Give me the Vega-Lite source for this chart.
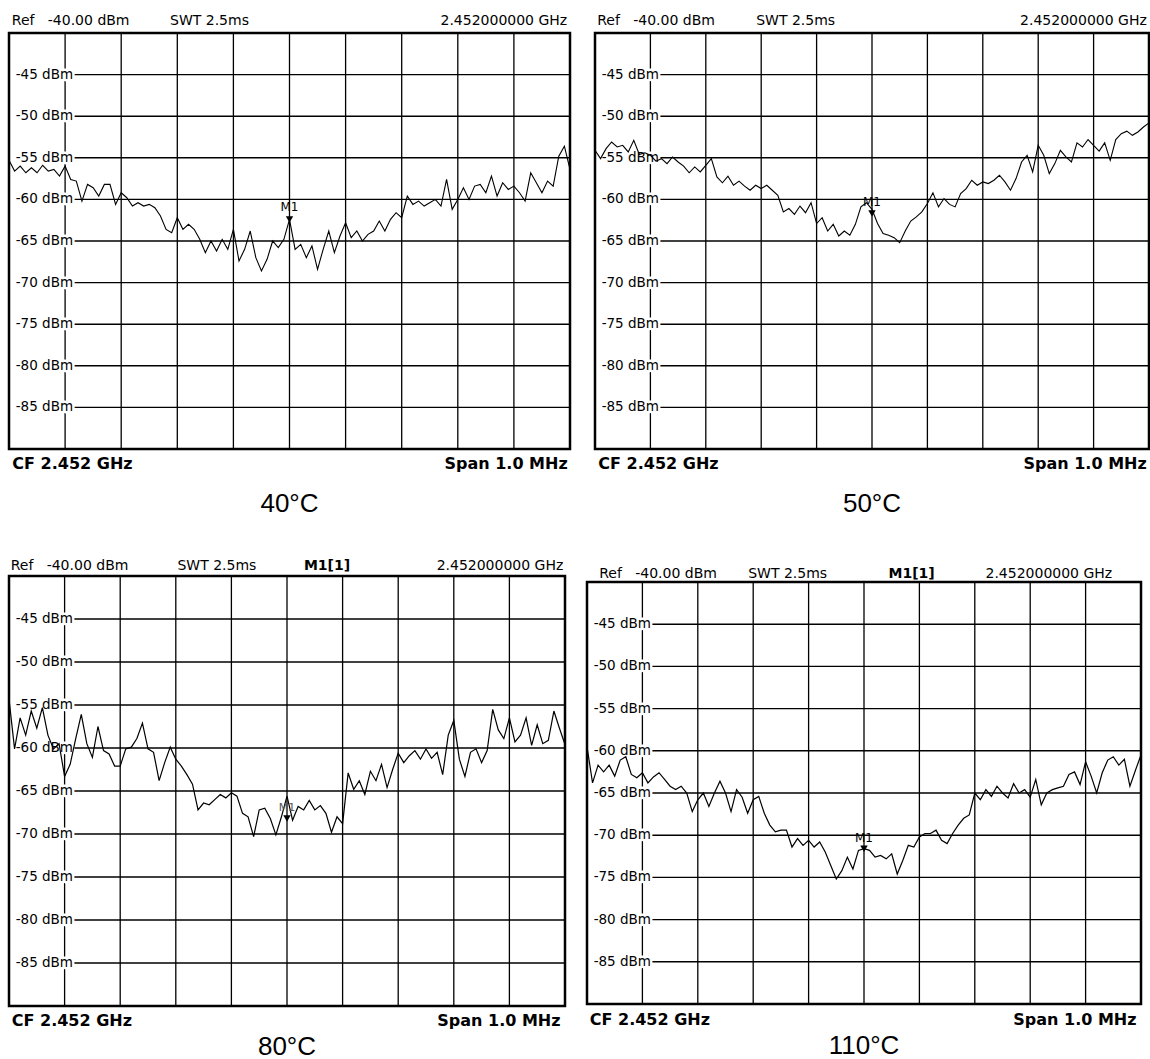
{
"$schema": "https://vega.github.io/schema/vega-lite/v6.json",
"background": "white",
"padding": {"left": 5, "top": 12, "right": 0, "bottom": 0},
"config": {"view": {"stroke": "black", "strokeWidth": 2.5}, "text": {"font": "DejaVu Sans", "color": "black"}},
"datasets": {
"divs": [{"kHz":-400},{"kHz":-300},{"kHz":-200},{"kHz":-100},{"kHz":0},{"kHz":100},{"kHz":200},{"kHz":300},{"kHz":400}],
"levels": [{"dBm":-45,"label":"-45 dBm"},{"dBm":-50,"label":"-50 dBm"},{"dBm":-55,"label":"-55 dBm"},{"dBm":-60,"label":"-60 dBm"},{"dBm":-65,"label":"-65 dBm"},{"dBm":-70,"label":"-70 dBm"},{"dBm":-75,"label":"-75 dBm"},{"dBm":-80,"label":"-80 dBm"},{"dBm":-85,"label":"-85 dBm"}],
"t40": [{"kHz":-500,"dBm":-55.3},{"kHz":-490,"dBm":-56.6},{"kHz":-480,"dBm":-56.0},{"kHz":-470,"dBm":-56.8},{"kHz":-460,"dBm":-56.2},{"kHz":-450,"dBm":-56.8},{"kHz":-440,"dBm":-55.9},{"kHz":-430,"dBm":-56.6},{"kHz":-420,"dBm":-56.4},{"kHz":-410,"dBm":-57.2},
{"kHz":-400,"dBm":-56.0},{"kHz":-390,"dBm":-57.6},{"kHz":-380,"dBm":-57.8},{"kHz":-370,"dBm":-60.2},{"kHz":-360,"dBm":-58.2},{"kHz":-350,"dBm":-58.6},{"kHz":-340,"dBm":-59.6},{"kHz":-330,"dBm":-58.2},{"kHz":-320,"dBm":-58.2},{"kHz":-310,"dBm":-60.6},
{"kHz":-300,"dBm":-59.2},{"kHz":-290,"dBm":-59.8},{"kHz":-280,"dBm":-60.8},{"kHz":-270,"dBm":-60.4},{"kHz":-260,"dBm":-60.8},{"kHz":-250,"dBm":-60.6},{"kHz":-240,"dBm":-61.0},{"kHz":-230,"dBm":-62.0},{"kHz":-220,"dBm":-63.6},{"kHz":-210,"dBm":-64.0},
{"kHz":-200,"dBm":-62.2},{"kHz":-190,"dBm":-63.6},{"kHz":-180,"dBm":-63.0},{"kHz":-170,"dBm":-63.6},{"kHz":-160,"dBm":-64.8},{"kHz":-150,"dBm":-66.4},{"kHz":-140,"dBm":-65.0},{"kHz":-130,"dBm":-66.2},{"kHz":-120,"dBm":-64.8},{"kHz":-110,"dBm":-66.0},
{"kHz":-100,"dBm":-63.6},{"kHz":-90,"dBm":-67.4},{"kHz":-80,"dBm":-66.0},{"kHz":-70,"dBm":-63.8},{"kHz":-60,"dBm":-67.0},{"kHz":-50,"dBm":-68.6},{"kHz":-40,"dBm":-67.2},{"kHz":-30,"dBm":-65.0},{"kHz":-20,"dBm":-65.8},{"kHz":-10,"dBm":-64.8},
{"kHz":0,"dBm":-62.4},{"kHz":10,"dBm":-66.0},{"kHz":20,"dBm":-65.4},{"kHz":30,"dBm":-67.0},{"kHz":40,"dBm":-65.6},{"kHz":50,"dBm":-68.4},{"kHz":60,"dBm":-66.0},{"kHz":70,"dBm":-63.8},{"kHz":80,"dBm":-66.4},{"kHz":90,"dBm":-64.4},
{"kHz":100,"dBm":-62.8},{"kHz":110,"dBm":-64.6},{"kHz":120,"dBm":-63.8},{"kHz":130,"dBm":-65.0},{"kHz":140,"dBm":-64.2},{"kHz":150,"dBm":-63.8},{"kHz":160,"dBm":-62.6},{"kHz":170,"dBm":-63.8},{"kHz":180,"dBm":-62.4},{"kHz":190,"dBm":-61.6},
{"kHz":200,"dBm":-62.2},{"kHz":210,"dBm":-59.6},{"kHz":220,"dBm":-60.6},{"kHz":230,"dBm":-60.2},{"kHz":240,"dBm":-60.8},{"kHz":250,"dBm":-60.4},{"kHz":260,"dBm":-60.0},{"kHz":270,"dBm":-60.8},{"kHz":280,"dBm":-57.6},{"kHz":290,"dBm":-61.2},
{"kHz":300,"dBm":-60.0},{"kHz":310,"dBm":-58.6},{"kHz":320,"dBm":-60.0},{"kHz":330,"dBm":-58.4},{"kHz":340,"dBm":-58.2},{"kHz":350,"dBm":-59.2},{"kHz":360,"dBm":-57.2},{"kHz":370,"dBm":-59.6},{"kHz":380,"dBm":-58.0},{"kHz":390,"dBm":-58.8},
{"kHz":400,"dBm":-58.4},{"kHz":410,"dBm":-59.2},{"kHz":420,"dBm":-60.2},{"kHz":430,"dBm":-56.8},{"kHz":440,"dBm":-58.0},{"kHz":450,"dBm":-59.2},{"kHz":460,"dBm":-57.8},{"kHz":470,"dBm":-58.4},{"kHz":480,"dBm":-54.8},{"kHz":490,"dBm":-53.6},
{"kHz":500,"dBm":-56.4}],
"t50": [{"kHz":-500,"dBm":-54.1},{"kHz":-490,"dBm":-55.1},{"kHz":-480,"dBm":-53.9},{"kHz":-470,"dBm":-53.1},{"kHz":-460,"dBm":-53.7},{"kHz":-450,"dBm":-53.5},{"kHz":-440,"dBm":-54.3},{"kHz":-430,"dBm":-52.9},{"kHz":-420,"dBm":-54.6},{"kHz":-410,"dBm":-54.4},
{"kHz":-400,"dBm":-54.7},{"kHz":-390,"dBm":-55.4},{"kHz":-380,"dBm":-55.1},{"kHz":-370,"dBm":-55.7},{"kHz":-360,"dBm":-54.9},{"kHz":-350,"dBm":-55.5},{"kHz":-340,"dBm":-56.0},{"kHz":-330,"dBm":-56.8},{"kHz":-320,"dBm":-56.1},{"kHz":-310,"dBm":-56.7},
{"kHz":-300,"dBm":-55.9},{"kHz":-290,"dBm":-55.1},{"kHz":-280,"dBm":-57.3},{"kHz":-270,"dBm":-58.0},{"kHz":-260,"dBm":-57.2},{"kHz":-250,"dBm":-58.3},{"kHz":-240,"dBm":-57.8},{"kHz":-230,"dBm":-58.4},{"kHz":-220,"dBm":-58.9},{"kHz":-210,"dBm":-58.3},
{"kHz":-200,"dBm":-58.7},{"kHz":-190,"dBm":-58.3},{"kHz":-180,"dBm":-58.9},{"kHz":-170,"dBm":-59.5},{"kHz":-160,"dBm":-61.5},{"kHz":-150,"dBm":-61.1},{"kHz":-140,"dBm":-61.8},{"kHz":-130,"dBm":-60.8},{"kHz":-120,"dBm":-61.6},{"kHz":-110,"dBm":-60.4},
{"kHz":-100,"dBm":-62.9},{"kHz":-90,"dBm":-62.2},{"kHz":-80,"dBm":-63.8},{"kHz":-70,"dBm":-63.0},{"kHz":-60,"dBm":-64.4},{"kHz":-50,"dBm":-63.8},{"kHz":-40,"dBm":-64.3},{"kHz":-30,"dBm":-63.0},{"kHz":-20,"dBm":-60.9},{"kHz":-10,"dBm":-60.4},
{"kHz":0,"dBm":-61.2},{"kHz":10,"dBm":-62.9},{"kHz":20,"dBm":-64.1},{"kHz":30,"dBm":-64.3},{"kHz":40,"dBm":-64.6},{"kHz":50,"dBm":-65.2},{"kHz":60,"dBm":-63.8},{"kHz":70,"dBm":-62.6},{"kHz":80,"dBm":-62.1},{"kHz":90,"dBm":-61.5},
{"kHz":100,"dBm":-60.5},{"kHz":110,"dBm":-59.2},{"kHz":120,"dBm":-60.9},{"kHz":130,"dBm":-59.9},{"kHz":140,"dBm":-60.6},{"kHz":150,"dBm":-60.9},{"kHz":160,"dBm":-59.3},{"kHz":170,"dBm":-58.7},{"kHz":180,"dBm":-57.7},{"kHz":190,"dBm":-58.3},
{"kHz":200,"dBm":-57.9},{"kHz":210,"dBm":-58.1},{"kHz":220,"dBm":-57.7},{"kHz":230,"dBm":-57.1},{"kHz":240,"dBm":-57.9},{"kHz":250,"dBm":-58.9},{"kHz":260,"dBm":-57.5},{"kHz":270,"dBm":-55.5},{"kHz":280,"dBm":-54.7},{"kHz":290,"dBm":-56.7},
{"kHz":300,"dBm":-53.5},{"kHz":310,"dBm":-54.7},{"kHz":320,"dBm":-56.9},{"kHz":330,"dBm":-55.7},{"kHz":340,"dBm":-54.1},{"kHz":350,"dBm":-54.9},{"kHz":360,"dBm":-55.5},{"kHz":370,"dBm":-53.2},{"kHz":380,"dBm":-53.7},{"kHz":390,"dBm":-52.8},
{"kHz":400,"dBm":-53.5},{"kHz":410,"dBm":-54.2},{"kHz":420,"dBm":-53.2},{"kHz":430,"dBm":-55.3},{"kHz":440,"dBm":-52.8},{"kHz":450,"dBm":-52.1},{"kHz":460,"dBm":-51.8},{"kHz":470,"dBm":-52.3},{"kHz":480,"dBm":-51.9},{"kHz":490,"dBm":-51.3},
{"kHz":500,"dBm":-50.8}],
"t80": [{"kHz":-500,"dBm":-54.3},{"kHz":-490,"dBm":-60.1},{"kHz":-480,"dBm":-56.5},{"kHz":-470,"dBm":-58.5},{"kHz":-460,"dBm":-55.7},{"kHz":-450,"dBm":-57.7},{"kHz":-440,"dBm":-55.3},{"kHz":-430,"dBm":-58.5},{"kHz":-420,"dBm":-60.1},{"kHz":-410,"dBm":-59.5},
{"kHz":-400,"dBm":-63.3},{"kHz":-390,"dBm":-61.9},{"kHz":-380,"dBm":-58.9},{"kHz":-370,"dBm":-56.1},{"kHz":-360,"dBm":-59.5},{"kHz":-350,"dBm":-61.1},{"kHz":-340,"dBm":-57.5},{"kHz":-330,"dBm":-60.3},{"kHz":-320,"dBm":-60.7},{"kHz":-310,"dBm":-62.1},
{"kHz":-300,"dBm":-62.1},{"kHz":-290,"dBm":-60.1},{"kHz":-280,"dBm":-59.9},{"kHz":-270,"dBm":-58.9},{"kHz":-260,"dBm":-57.1},{"kHz":-250,"dBm":-60.1},{"kHz":-240,"dBm":-60.5},{"kHz":-230,"dBm":-63.8},{"kHz":-220,"dBm":-61.7},{"kHz":-210,"dBm":-59.9},
{"kHz":-200,"dBm":-61.3},{"kHz":-190,"dBm":-62.1},{"kHz":-180,"dBm":-63.1},{"kHz":-170,"dBm":-64.2},{"kHz":-160,"dBm":-67.2},{"kHz":-150,"dBm":-66.4},{"kHz":-140,"dBm":-66.6},{"kHz":-130,"dBm":-66.0},{"kHz":-120,"dBm":-65.4},{"kHz":-110,"dBm":-65.8},
{"kHz":-100,"dBm":-65.2},{"kHz":-90,"dBm":-65.6},{"kHz":-80,"dBm":-67.6},{"kHz":-70,"dBm":-68.0},{"kHz":-60,"dBm":-70.3},{"kHz":-50,"dBm":-67.2},{"kHz":-40,"dBm":-67.0},{"kHz":-30,"dBm":-68.2},{"kHz":-20,"dBm":-70.1},{"kHz":-10,"dBm":-68.0},
{"kHz":0,"dBm":-65.6},{"kHz":10,"dBm":-68.4},{"kHz":20,"dBm":-66.8},{"kHz":30,"dBm":-67.2},{"kHz":40,"dBm":-66.1},{"kHz":50,"dBm":-67.2},{"kHz":60,"dBm":-66.7},{"kHz":70,"dBm":-67.6},{"kHz":80,"dBm":-69.8},{"kHz":90,"dBm":-68.0},
{"kHz":100,"dBm":-68.8},{"kHz":110,"dBm":-62.9},{"kHz":120,"dBm":-64.8},{"kHz":130,"dBm":-63.8},{"kHz":140,"dBm":-65.4},{"kHz":150,"dBm":-62.7},{"kHz":160,"dBm":-63.8},{"kHz":170,"dBm":-61.9},{"kHz":180,"dBm":-64.6},{"kHz":190,"dBm":-62.5},
{"kHz":200,"dBm":-60.6},{"kHz":210,"dBm":-61.7},{"kHz":220,"dBm":-60.9},{"kHz":230,"dBm":-60.3},{"kHz":240,"dBm":-61.3},{"kHz":250,"dBm":-60.1},{"kHz":260,"dBm":-61.2},{"kHz":270,"dBm":-60.5},{"kHz":280,"dBm":-63.1},{"kHz":290,"dBm":-58.5},
{"kHz":300,"dBm":-56.8},{"kHz":310,"dBm":-61.3},{"kHz":320,"dBm":-63.3},{"kHz":330,"dBm":-60.5},{"kHz":340,"dBm":-60.1},{"kHz":350,"dBm":-61.7},{"kHz":360,"dBm":-60.3},{"kHz":370,"dBm":-55.5},{"kHz":380,"dBm":-57.9},{"kHz":390,"dBm":-58.9},
{"kHz":400,"dBm":-56.5},{"kHz":410,"dBm":-59.3},{"kHz":420,"dBm":-58.5},{"kHz":430,"dBm":-56.5},{"kHz":440,"dBm":-59.7},{"kHz":450,"dBm":-57.3},{"kHz":460,"dBm":-59.5},{"kHz":470,"dBm":-59.1},{"kHz":480,"dBm":-55.7},{"kHz":490,"dBm":-57.7},
{"kHz":500,"dBm":-59.6}],
"t110": [{"kHz":-500,"dBm":-59.5},{"kHz":-490,"dBm":-63.8},{"kHz":-480,"dBm":-61.7},{"kHz":-470,"dBm":-62.5},{"kHz":-460,"dBm":-61.7},{"kHz":-450,"dBm":-63.0},{"kHz":-440,"dBm":-61.1},{"kHz":-430,"dBm":-60.7},{"kHz":-420,"dBm":-62.8},{"kHz":-410,"dBm":-63.2},
{"kHz":-400,"dBm":-62.6},{"kHz":-390,"dBm":-63.8},{"kHz":-380,"dBm":-63.1},{"kHz":-370,"dBm":-62.6},{"kHz":-360,"dBm":-63.4},{"kHz":-350,"dBm":-64.2},{"kHz":-340,"dBm":-64.6},{"kHz":-330,"dBm":-64.2},{"kHz":-320,"dBm":-65.0},{"kHz":-310,"dBm":-67.2},
{"kHz":-300,"dBm":-65.8},{"kHz":-290,"dBm":-65.0},{"kHz":-280,"dBm":-66.6},{"kHz":-270,"dBm":-65.0},{"kHz":-260,"dBm":-63.6},{"kHz":-250,"dBm":-65.0},{"kHz":-240,"dBm":-67.2},{"kHz":-230,"dBm":-64.6},{"kHz":-220,"dBm":-65.5},{"kHz":-210,"dBm":-67.4},
{"kHz":-200,"dBm":-65.8},{"kHz":-190,"dBm":-65.4},{"kHz":-180,"dBm":-67.4},{"kHz":-170,"dBm":-68.8},{"kHz":-160,"dBm":-69.6},{"kHz":-150,"dBm":-69.4},{"kHz":-140,"dBm":-69.4},{"kHz":-130,"dBm":-71.4},{"kHz":-120,"dBm":-70.4},{"kHz":-110,"dBm":-71.2},
{"kHz":-100,"dBm":-70.6},{"kHz":-90,"dBm":-71.4},{"kHz":-80,"dBm":-70.8},{"kHz":-70,"dBm":-72.0},{"kHz":-60,"dBm":-73.6},{"kHz":-50,"dBm":-75.2},{"kHz":-40,"dBm":-74.2},{"kHz":-30,"dBm":-72.6},{"kHz":-20,"dBm":-74.0},{"kHz":-10,"dBm":-71.8},
{"kHz":0,"dBm":-71.6},{"kHz":10,"dBm":-71.8},{"kHz":20,"dBm":-72.6},{"kHz":30,"dBm":-72.4},{"kHz":40,"dBm":-72.8},{"kHz":50,"dBm":-72.2},{"kHz":60,"dBm":-74.6},{"kHz":70,"dBm":-73.0},{"kHz":80,"dBm":-71.2},{"kHz":90,"dBm":-71.4},
{"kHz":100,"dBm":-70.2},{"kHz":110,"dBm":-69.8},{"kHz":120,"dBm":-69.8},{"kHz":130,"dBm":-69.4},{"kHz":140,"dBm":-70.6},{"kHz":150,"dBm":-71.0},{"kHz":160,"dBm":-69.8},{"kHz":170,"dBm":-68.8},{"kHz":180,"dBm":-68.0},{"kHz":190,"dBm":-67.6},
{"kHz":200,"dBm":-65.0},{"kHz":210,"dBm":-65.8},{"kHz":220,"dBm":-64.6},{"kHz":230,"dBm":-65.4},{"kHz":240,"dBm":-64.2},{"kHz":250,"dBm":-65.0},{"kHz":260,"dBm":-65.6},{"kHz":270,"dBm":-63.9},{"kHz":280,"dBm":-65.0},{"kHz":290,"dBm":-64.6},
{"kHz":300,"dBm":-65.5},{"kHz":310,"dBm":-63.4},{"kHz":320,"dBm":-66.4},{"kHz":330,"dBm":-65.0},{"kHz":340,"dBm":-64.6},{"kHz":350,"dBm":-64.4},{"kHz":360,"dBm":-64.2},{"kHz":370,"dBm":-62.8},{"kHz":380,"dBm":-62.5},{"kHz":390,"dBm":-64.0},
{"kHz":400,"dBm":-61.3},{"kHz":410,"dBm":-63.0},{"kHz":420,"dBm":-65.0},{"kHz":430,"dBm":-62.6},{"kHz":440,"dBm":-61.1},{"kHz":450,"dBm":-60.7},{"kHz":460,"dBm":-61.7},{"kHz":470,"dBm":-61.0},{"kHz":480,"dBm":-64.2},{"kHz":490,"dBm":-62.3},
{"kHz":500,"dBm":-60.5}]
},
"spacing": 38,
"vconcat": [
{"spacing": 17, "hconcat": [
{"width": 561, "height": 416, "layer": [
{"data": {"name": "divs"}, "mark": {"type": "rule", "color": "black", "strokeWidth": 1.3}, "encoding": {"x": {"field": "kHz", "type": "quantitative", "scale": {"domain": [-500, 500], "nice": false, "zero": false}, "axis": null}}},
{"data": {"name": "levels"}, "mark": {"type": "rule", "color": "black", "strokeWidth": 1.4}, "encoding": {"y": {"field": "dBm", "type": "quantitative", "scale": {"domain": [-90, -40], "nice": false, "zero": false}, "axis": null}, "x": {"datum": -388, "axis": null}, "x2": {"datum": 500}}},
{"data": {"name": "levels"}, "mark": {"type": "text", "align": "left", "baseline": "middle", "fontSize": 13.5, "fill": "white", "stroke": "white", "strokeWidth": 5, "strokeJoin": "round"}, "encoding": {"x": {"datum": -488, "axis": null}, "y": {"field": "dBm", "type": "quantitative", "axis": null}, "text": {"field": "label"}}},
{"data": {"name": "levels"}, "mark": {"type": "text", "align": "left", "baseline": "middle", "fontSize": 13.5, "fill": "black"}, "encoding": {"x": {"datum": -488, "axis": null}, "y": {"field": "dBm", "type": "quantitative", "axis": null}, "text": {"field": "label"}}},
{"data": {"name": "t40"}, "mark": {"type": "line", "color": "black", "strokeWidth": 1.1}, "encoding": {"x": {"field": "kHz", "type": "quantitative", "axis": null}, "y": {"field": "dBm", "type": "quantitative", "axis": null}}},
{"data": {"values": [{"kHz": 0, "dBm": -62.4, "marker": "M1"}]}, "mark": {"type": "point", "shape": "triangle-down", "filled": true, "color": "black", "opacity": 1, "size": 55}, "encoding": {"x": {"field": "kHz", "type": "quantitative", "axis": null}, "y": {"field": "dBm", "type": "quantitative", "axis": null}}},
{"data": {"values": [{"kHz": 0, "dBm": -62.4, "marker": "M1"}]}, "mark": {"type": "text", "fontSize": 12, "dy": -12, "baseline": "middle"}, "encoding": {"x": {"field": "kHz", "type": "quantitative", "axis": null}, "y": {"field": "dBm", "type": "quantitative", "axis": null}, "text": {"field": "marker"}}},
{"data": {"values": [{}]}, "mark": {"type": "text", "text": "Ref\u00a0\u00a0 -40.00 dBm", "align": "left", "baseline": "middle", "fontSize": 14}, "encoding": {"x": {"datum": -495, "axis": null}, "y": {"datum": -38.56, "axis": null}}},
{"data": {"values": [{}]}, "mark": {"type": "text", "text": "SWT 2.5ms", "align": "left", "baseline": "middle", "fontSize": 14}, "encoding": {"x": {"datum": -213, "axis": null}, "y": {"datum": -38.56, "axis": null}}},
{"data": {"values": [{}]}, "mark": {"type": "text", "text": "2.452000000 GHz", "align": "right", "baseline": "middle", "fontSize": 14}, "encoding": {"x": {"datum": 495, "axis": null}, "y": {"datum": -38.56, "axis": null}}},
{"data": {"values": [{}]}, "mark": {"type": "text", "text": "CF 2.452 GHz", "align": "left", "baseline": "middle", "fontSize": 16, "fontWeight": "bold"}, "encoding": {"x": {"datum": -494, "axis": null}, "y": {"datum": -91.86, "axis": null}}},
{"data": {"values": [{}]}, "mark": {"type": "text", "text": "Span 1.0 MHz", "align": "right", "baseline": "middle", "fontSize": 16, "fontWeight": "bold"}, "encoding": {"x": {"datum": 496, "axis": null}, "y": {"datum": -91.86, "axis": null}}},
{"data": {"values": [{}]}, "mark": {"type": "text", "text": "40°C", "align": "center", "baseline": "middle", "fontSize": 26, "font": "Liberation Sans"}, "encoding": {"x": {"datum": 0, "axis": null}, "y": {"datum": -96.67, "axis": null}}}
]},
{"width": 554, "height": 416, "layer": [
{"data": {"name": "divs"}, "mark": {"type": "rule", "color": "black", "strokeWidth": 1.3}, "encoding": {"x": {"field": "kHz", "type": "quantitative", "scale": {"domain": [-500, 500], "nice": false, "zero": false}, "axis": null}}},
{"data": {"name": "levels"}, "mark": {"type": "rule", "color": "black", "strokeWidth": 1.4}, "encoding": {"y": {"field": "dBm", "type": "quantitative", "scale": {"domain": [-90, -40], "nice": false, "zero": false}, "axis": null}, "x": {"datum": -388, "axis": null}, "x2": {"datum": 500}}},
{"data": {"name": "levels"}, "mark": {"type": "text", "align": "left", "baseline": "middle", "fontSize": 13.5, "fill": "white", "stroke": "white", "strokeWidth": 5, "strokeJoin": "round"}, "encoding": {"x": {"datum": -488, "axis": null}, "y": {"field": "dBm", "type": "quantitative", "axis": null}, "text": {"field": "label"}}},
{"data": {"name": "levels"}, "mark": {"type": "text", "align": "left", "baseline": "middle", "fontSize": 13.5, "fill": "black"}, "encoding": {"x": {"datum": -488, "axis": null}, "y": {"field": "dBm", "type": "quantitative", "axis": null}, "text": {"field": "label"}}},
{"data": {"name": "t50"}, "mark": {"type": "line", "color": "black", "strokeWidth": 1.1}, "encoding": {"x": {"field": "kHz", "type": "quantitative", "axis": null}, "y": {"field": "dBm", "type": "quantitative", "axis": null}}},
{"data": {"values": [{"kHz": 0, "dBm": -61.7, "marker": "M1"}]}, "mark": {"type": "point", "shape": "triangle-down", "filled": true, "color": "black", "opacity": 1, "size": 55}, "encoding": {"x": {"field": "kHz", "type": "quantitative", "axis": null}, "y": {"field": "dBm", "type": "quantitative", "axis": null}}},
{"data": {"values": [{"kHz": 0, "dBm": -61.7, "marker": "M1"}]}, "mark": {"type": "text", "fontSize": 12, "dy": -12, "baseline": "middle"}, "encoding": {"x": {"field": "kHz", "type": "quantitative", "axis": null}, "y": {"field": "dBm", "type": "quantitative", "axis": null}, "text": {"field": "marker"}}},
{"data": {"values": [{}]}, "mark": {"type": "text", "text": "Ref\u00a0\u00a0 -40.00 dBm", "align": "left", "baseline": "middle", "fontSize": 14}, "encoding": {"x": {"datum": -496, "axis": null}, "y": {"datum": -38.56, "axis": null}}},
{"data": {"values": [{}]}, "mark": {"type": "text", "text": "SWT 2.5ms", "align": "left", "baseline": "middle", "fontSize": 14}, "encoding": {"x": {"datum": -209, "axis": null}, "y": {"datum": -38.56, "axis": null}}},
{"data": {"values": [{}]}, "mark": {"type": "text", "text": "2.452000000 GHz", "align": "right", "baseline": "middle", "fontSize": 14}, "encoding": {"x": {"datum": 496, "axis": null}, "y": {"datum": -38.56, "axis": null}}},
{"data": {"values": [{}]}, "mark": {"type": "text", "text": "CF 2.452 GHz", "align": "left", "baseline": "middle", "fontSize": 16, "fontWeight": "bold"}, "encoding": {"x": {"datum": -494, "axis": null}, "y": {"datum": -91.86, "axis": null}}},
{"data": {"values": [{}]}, "mark": {"type": "text", "text": "Span 1.0 MHz", "align": "right", "baseline": "middle", "fontSize": 16, "fontWeight": "bold"}, "encoding": {"x": {"datum": 496, "axis": null}, "y": {"datum": -91.86, "axis": null}}},
{"data": {"values": [{}]}, "mark": {"type": "text", "text": "50°C", "align": "center", "baseline": "middle", "fontSize": 26, "font": "Liberation Sans"}, "encoding": {"x": {"datum": 0, "axis": null}, "y": {"datum": -96.67, "axis": null}}}
]}
]},
{"spacing": 15, "columns": 2, "align": "none", "concat": [
{"width": 556, "height": 430, "layer": [
{"data": {"name": "divs"}, "mark": {"type": "rule", "color": "black", "strokeWidth": 1.3}, "encoding": {"x": {"field": "kHz", "type": "quantitative", "scale": {"domain": [-500, 500], "nice": false, "zero": false}, "axis": null}}},
{"data": {"name": "levels"}, "mark": {"type": "rule", "color": "black", "strokeWidth": 1.4}, "encoding": {"y": {"field": "dBm", "type": "quantitative", "scale": {"domain": [-90, -40], "nice": false, "zero": false}, "axis": null}, "x": {"datum": -388, "axis": null}, "x2": {"datum": 500}}},
{"data": {"name": "levels"}, "mark": {"type": "text", "align": "left", "baseline": "middle", "fontSize": 13.5, "fill": "white", "stroke": "white", "strokeWidth": 5, "strokeJoin": "round"}, "encoding": {"x": {"datum": -488, "axis": null}, "y": {"field": "dBm", "type": "quantitative", "axis": null}, "text": {"field": "label"}}},
{"data": {"name": "levels"}, "mark": {"type": "text", "align": "left", "baseline": "middle", "fontSize": 13.5, "fill": "black"}, "encoding": {"x": {"datum": -488, "axis": null}, "y": {"field": "dBm", "type": "quantitative", "axis": null}, "text": {"field": "label"}}},
{"data": {"name": "t80"}, "mark": {"type": "line", "color": "black", "strokeWidth": 1.2}, "encoding": {"x": {"field": "kHz", "type": "quantitative", "axis": null}, "y": {"field": "dBm", "type": "quantitative", "axis": null}}},
{"data": {"values": [{"kHz": 0, "dBm": -68.2, "marker": "M1"}]}, "mark": {"type": "point", "shape": "triangle-down", "filled": true, "color": "black", "opacity": 1, "size": 55}, "encoding": {"x": {"field": "kHz", "type": "quantitative", "axis": null}, "y": {"field": "dBm", "type": "quantitative", "axis": null}}},
{"data": {"values": [{"kHz": 0, "dBm": -68.2, "marker": "M1"}]}, "mark": {"type": "text", "fontSize": 11, "dy": -11, "baseline": "middle", "color": "#555"}, "encoding": {"x": {"field": "kHz", "type": "quantitative", "axis": null}, "y": {"field": "dBm", "type": "quantitative", "axis": null}, "text": {"field": "marker"}}},
{"data": {"values": [{}]}, "mark": {"type": "text", "text": "Ref\u00a0\u00a0 -40.00 dBm", "align": "left", "baseline": "middle", "fontSize": 14}, "encoding": {"x": {"datum": -497, "axis": null}, "y": {"datum": -38.84, "axis": null}}},
{"data": {"values": [{}]}, "mark": {"type": "text", "text": "SWT 2.5ms", "align": "left", "baseline": "middle", "fontSize": 14}, "encoding": {"x": {"datum": -197, "axis": null}, "y": {"datum": -38.84, "axis": null}}},
{"data": {"values": [{}]}, "mark": {"type": "text", "text": "M1[1]", "align": "center", "baseline": "middle", "fontSize": 14, "fontWeight": "bold"}, "encoding": {"x": {"datum": 72, "axis": null}, "y": {"datum": -38.84, "axis": null}}},
{"data": {"values": [{}]}, "mark": {"type": "text", "text": "2.452000000 GHz", "align": "right", "baseline": "middle", "fontSize": 14}, "encoding": {"x": {"datum": 497, "axis": null}, "y": {"datum": -38.84, "axis": null}}},
{"data": {"values": [{}]}, "mark": {"type": "text", "text": "CF 2.452 GHz", "align": "left", "baseline": "middle", "fontSize": 16, "fontWeight": "bold"}, "encoding": {"x": {"datum": -495, "axis": null}, "y": {"datum": -91.74, "axis": null}}},
{"data": {"values": [{}]}, "mark": {"type": "text", "text": "Span 1.0 MHz", "align": "right", "baseline": "middle", "fontSize": 16, "fontWeight": "bold"}, "encoding": {"x": {"datum": 492, "axis": null}, "y": {"datum": -91.74, "axis": null}}},
{"data": {"values": [{}]}, "mark": {"type": "text", "text": "80°C", "align": "center", "baseline": "middle", "fontSize": 26, "font": "Liberation Sans"}, "encoding": {"x": {"datum": 0, "axis": null}, "y": {"datum": -94.77, "axis": null}}}
]},
{"width": 554, "height": 428, "view": {"stroke": null}, "layer": [
{"data": {"name": "divs"}, "mark": {"type": "rule", "color": "black", "strokeWidth": 1.3}, "encoding": {"x": {"field": "kHz", "type": "quantitative", "scale": {"domain": [-500, 500], "nice": false, "zero": false}, "axis": null}, "y": {"datum": -40, "scale": {"domain": [-90, -39.29], "nice": false, "zero": false}, "axis": null}, "y2": {"datum": -90}}},
{"data": {"name": "levels"}, "mark": {"type": "rule", "color": "black", "strokeWidth": 1.4}, "encoding": {"y": {"field": "dBm", "type": "quantitative", "axis": null}, "x": {"datum": -388, "axis": null}, "x2": {"datum": 500}}},
{"data": {"name": "levels"}, "mark": {"type": "text", "align": "left", "baseline": "middle", "fontSize": 13.5, "fill": "white", "stroke": "white", "strokeWidth": 5, "strokeJoin": "round"}, "encoding": {"x": {"datum": -488, "axis": null}, "y": {"field": "dBm", "type": "quantitative", "axis": null}, "text": {"field": "label"}}},
{"data": {"name": "levels"}, "mark": {"type": "text", "align": "left", "baseline": "middle", "fontSize": 13.5, "fill": "black"}, "encoding": {"x": {"datum": -488, "axis": null}, "y": {"field": "dBm", "type": "quantitative", "axis": null}, "text": {"field": "label"}}},
{"data": {"name": "t110"}, "mark": {"type": "line", "color": "black", "strokeWidth": 1.2}, "encoding": {"x": {"field": "kHz", "type": "quantitative", "axis": null}, "y": {"field": "dBm", "type": "quantitative", "axis": null}}},
{"data": {"values": [{"kHz": 0, "dBm": -71.6, "marker": "M1"}]}, "mark": {"type": "point", "shape": "triangle-down", "filled": true, "color": "black", "opacity": 1, "size": 55}, "encoding": {"x": {"field": "kHz", "type": "quantitative", "axis": null}, "y": {"field": "dBm", "type": "quantitative", "axis": null}}},
{"data": {"values": [{"kHz": 0, "dBm": -71.6, "marker": "M1"}]}, "mark": {"type": "text", "fontSize": 12, "dy": -11, "baseline": "middle"}, "encoding": {"x": {"field": "kHz", "type": "quantitative", "axis": null}, "y": {"field": "dBm", "type": "quantitative", "axis": null}, "text": {"field": "marker"}}},
{"data": {"values": [{}]}, "mark": {"type": "rect", "filled": false, "stroke": "black", "strokeWidth": 2.5}, "encoding": {"x": {"datum": -500, "axis": null}, "x2": {"datum": 500}, "y": {"datum": -40, "axis": null}, "y2": {"datum": -90}}},
{"data": {"values": [{}]}, "mark": {"type": "text", "text": "Ref\u00a0\u00a0 -40.00 dBm", "align": "left", "baseline": "middle", "fontSize": 14}, "encoding": {"x": {"datum": -478, "axis": null}, "y": {"datum": -39.11, "axis": null}}},
{"data": {"values": [{}]}, "mark": {"type": "text", "text": "SWT 2.5ms", "align": "left", "baseline": "middle", "fontSize": 14}, "encoding": {"x": {"datum": -209, "axis": null}, "y": {"datum": -39.11, "axis": null}}},
{"data": {"values": [{}]}, "mark": {"type": "text", "text": "M1[1]", "align": "center", "baseline": "middle", "fontSize": 14, "fontWeight": "bold"}, "encoding": {"x": {"datum": 86, "axis": null}, "y": {"datum": -39.11, "axis": null}}},
{"data": {"values": [{}]}, "mark": {"type": "text", "text": "2.452000000 GHz", "align": "right", "baseline": "middle", "fontSize": 14}, "encoding": {"x": {"datum": 448, "axis": null}, "y": {"datum": -39.11, "axis": null}}},
{"data": {"values": [{}]}, "mark": {"type": "text", "text": "CF 2.452 GHz", "align": "left", "baseline": "middle", "fontSize": 16, "fontWeight": "bold"}, "encoding": {"x": {"datum": -495, "axis": null}, "y": {"datum": -91.9, "axis": null}}},
{"data": {"values": [{}]}, "mark": {"type": "text", "text": "Span 1.0 MHz", "align": "right", "baseline": "middle", "fontSize": 16, "fontWeight": "bold"}, "encoding": {"x": {"datum": 492, "axis": null}, "y": {"datum": -91.9, "axis": null}}},
{"data": {"values": [{}]}, "mark": {"type": "text", "text": "110°C", "align": "center", "baseline": "middle", "fontSize": 26, "font": "Liberation Sans"}, "encoding": {"x": {"datum": 0, "axis": null}, "y": {"datum": -94.98, "axis": null}}}
]}
]}
]
}
